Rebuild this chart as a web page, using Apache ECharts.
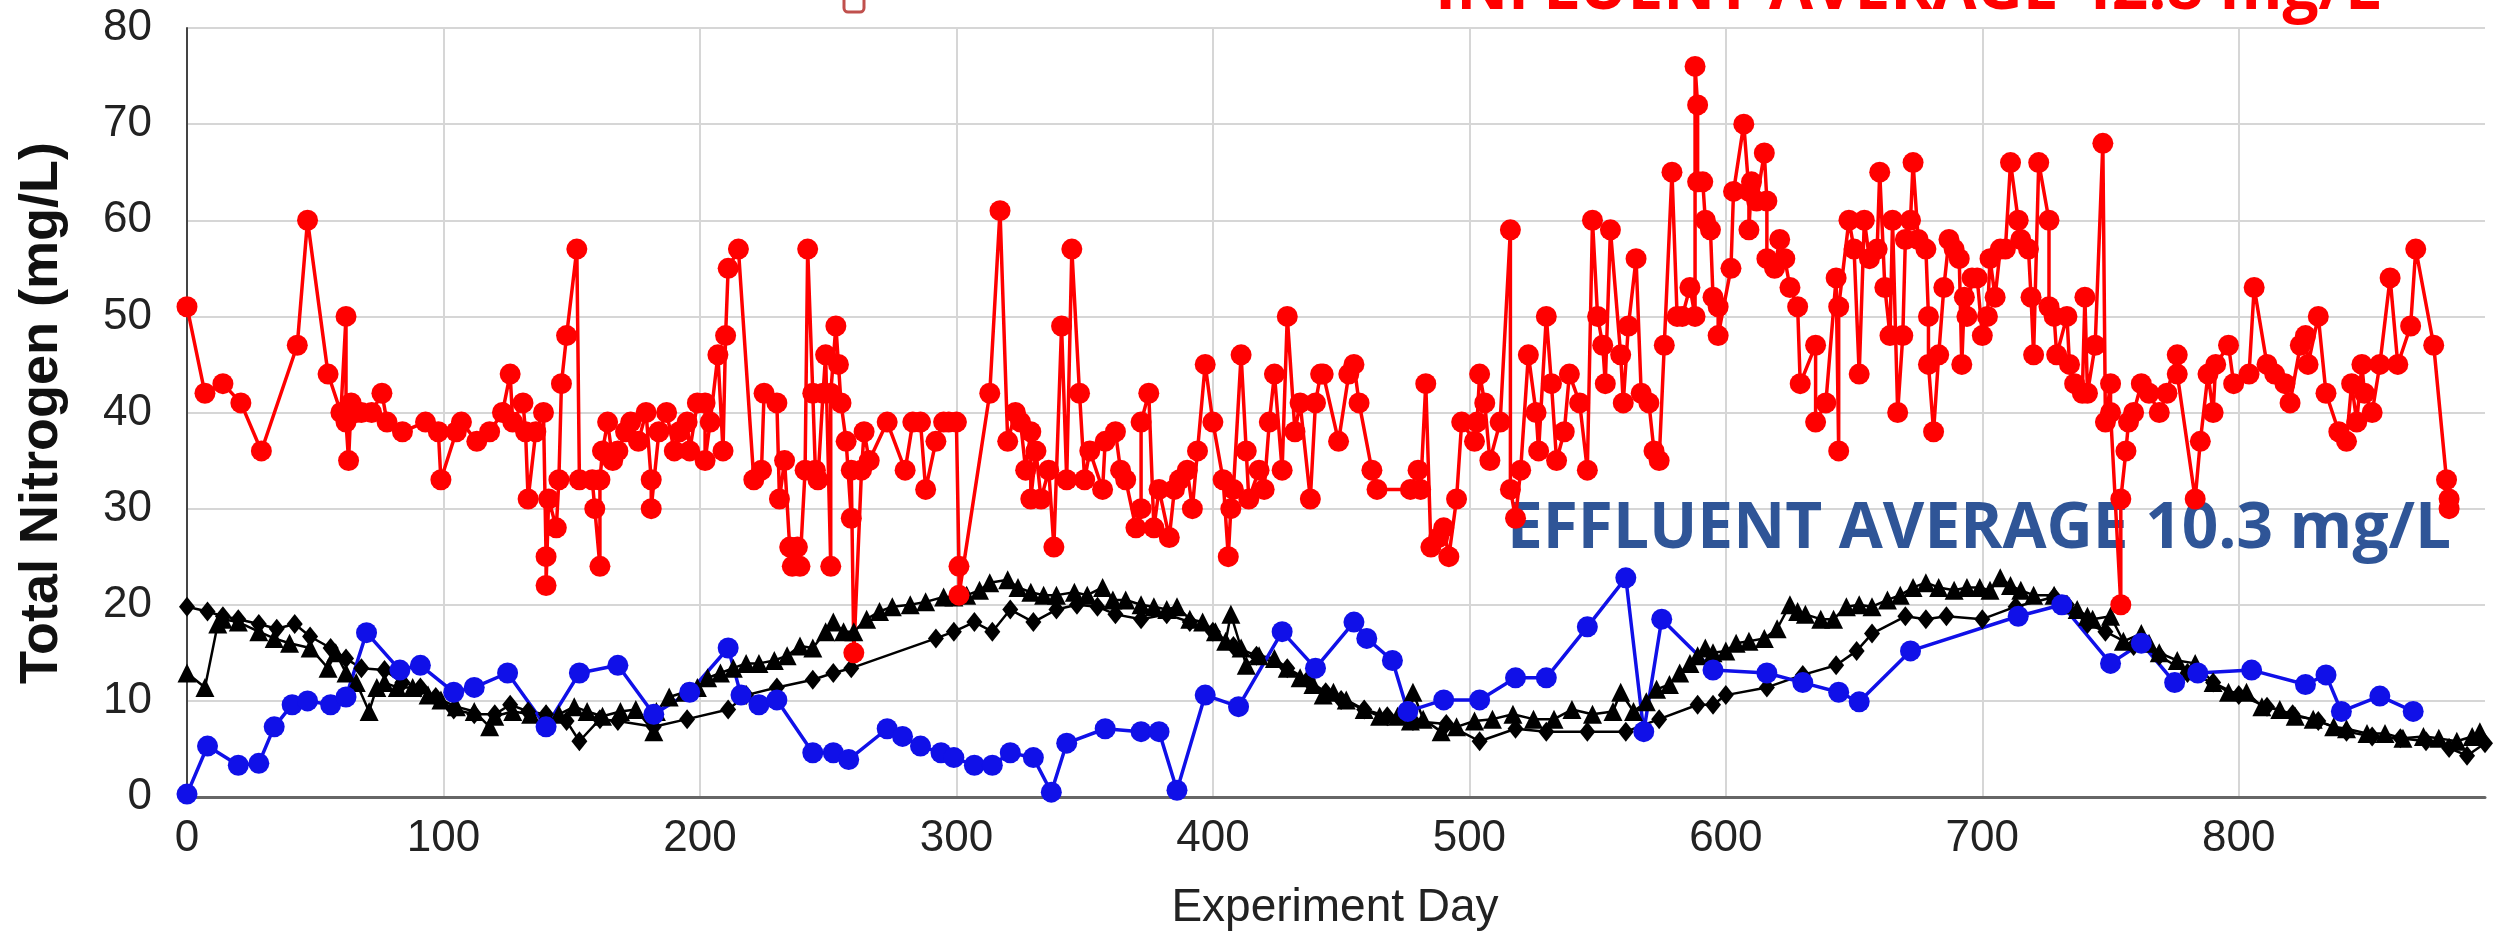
<!DOCTYPE html>
<html>
<head>
<meta charset="utf-8">
<script src="https://cdn.jsdelivr.net/npm/echarts@6/dist/echarts.min.js"></script>
<style>
  html, body { margin: 0; padding: 0; background: #fff; }
  #chart { width: 2503px; height: 935px; }
</style>
</head>
<body>
<div id="chart"></div>
<script>
// influent total nitrogen [day, mg/L]
const influent = [
  [0,51],[7,42],[14,43],[21,41],[29,36],[43,47],[47,60],[55,44],[60,40],[62,50],[62,39],[63,35],[64,41],[66,40],[68,40],
  [72,40],[76,42],[78,39],[84,38],[93,39],[98,38],[99,33],[105,38],[107,39],[113,37],[118,38],[123,40],[126,44],[127,39],
  [131,41],[132,38],[133,31],[136,38],[139,40],[140,25],[140,22],[141,31],[144,28],[145,33],[146,43],[148,48],[152,57],
  [153,33],[158,33],[159,30],[161,24],[161,33],[162,36],[164,39],[166,35],[168,36],[171,38],[173,39],[176,37],[179,40],
  [181,33],[181,30],[184,38],[187,40],[190,36],[192,38],[195,39],[196,36],[199,41],[202,41],[202,35],[204,39],[207,46],
  [209,36],[210,48],[211,55],[215,57],[221,33],[224,34],[225,42],[230,41],[231,31],[233,35],[235,26],[236,24],[238,26],
  [239,24],[241,34],[242,57],[244,42],[245,34],[246,33],[248,42],[249,46],[251,24],[251,42],[253,49],[254,45],[255,41],
  [257,37],[259,29],[259,34],[260,15],[263,34],[264,38],[266,35],[273,39],[280,34],[283,39],[286,39],[288,32],[292,37],
  [295,39],[297,39],[300,39],[301,24],[301,21],[313,42],[317,61],[320,37],[323,40],[325,39],[327,34],[329,38],[329,31],
  [331,36],[333,31],[336,34],[338,26],[341,49],[343,33],[345,57],[348,42],[350,33],[352,36],[357,32],[358,37],[362,38],
  [364,34],[366,33],[370,28],[372,30],[372,39],[375,42],[377,28],[379,32],[383,27],[385,32],[387,33],[390,34],[392,30],
  [394,36],[397,45],[400,39],[404,33],[406,25],[407,30],[408,32],[411,46],[413,36],[414,31],[418,34],[420,32],[422,39],
  [424,44],[427,34],[429,50],[432,38],[434,41],[438,31],[440,41],[442,44],[443,44],[449,37],[453,44],[455,45],[457,41],
  [462,34],[464,32],[477,32],[480,34],[481,32],[483,43],[485,26],[488,27],[490,28],[492,25],[495,31],[497,39],[502,37],
  [503,39],[504,44],[506,41],[508,35],[512,39],[516,59],[516,32],[518,29],[520,34],[523,46],[526,40],[527,36],[530,50],
  [532,43],[534,35],[537,38],[539,44],[543,41],[546,34],[548,60],[550,50],[552,47],[553,43],[555,59],[559,46],[560,41],
  [562,49],[565,56],[567,42],[570,41],[572,36],[574,35],[576,47],[579,65],[581,50],[583,50],[586,53],[588,50],[588,76],
  [589,72],[589,64],[591,64],[592,60],[594,59],[595,52],[597,51],[597,48],[602,55],[603,63],[607,70],[609,63],[609,59],
  [610,64],[612,62],[615,67],[616,62],[616,56],[619,55],[621,58],[623,56],[625,53],[628,51],[629,43],[635,47],[635,39],
  [639,41],[643,54],[644,36],[644,51],[648,60],[650,57],[652,44],[654,60],[656,56],[659,57],[660,65],[662,53],[664,48],
  [665,60],[667,40],[669,48],[670,58],[672,60],[673,66],[675,58],[678,57],[679,50],[679,45],[681,38],[683,46],[685,53],
  [687,58],[689,57],[691,56],[692,45],[693,52],[694,50],[696,54],[698,54],[700,48],[702,50],[703,56],[705,52],[707,57],
  [709,57],[711,66],[714,60],[715,58],[718,57],[719,52],[720,46],[722,66],[726,60],[726,51],[728,50],[729,46],[733,50],
  [734,45],[736,43],[739,42],[740,52],[741,42],[744,47],[747,68],[748,39],[750,43],[750,40],[754,20],[754,31],[756,36],
  [757,39],[759,40],[762,43],[765,42],[769,40],[772,42],[776,46],[776,44],[783,31],[785,37],[788,44],[790,40],[791,45],
  [796,47],[798,43],[804,44],[806,53],[811,45],[814,44],[818,43],[820,41],[824,47],[826,48],[827,45],[831,50],[834,42],
  [839,38],[842,37],[844,43],[846,39],[848,45],[849,42],[852,40],[855,45],[859,54],[862,45],[867,49],[869,57],[876,47],
  [881,33],[882,30],[882,31]
];

// effluent (blue circles)
const effluent = [
  [0,0.3],[8,5.3],[20,3.3],[28,3.5],[34,7.3],[41,9.6],[47,10],[56,9.6],[62,10.4],[70,17.1],[83,13.2],[91,13.7],
  [104,10.9],[112,11.4],[125,12.9],[140,7.3],[153,12.9],[168,13.7],[182,8.6],[196,10.9],[211,15.5],[216,10.6],
  [223,9.6],[230,10.1],[244,4.6],[252,4.6],[258,3.9],[273,7.1],[279,6.3],[286,5.3],[294,4.6],[299,4.1],[307,3.3],
  [314,3.3],[321,4.6],[330,4.1],[337,0.5],[343,5.6],[358,7.1],[372,6.8],[379,6.8],[386,0.7],[397,10.6],[410,9.4],
  [427,17.2],[440,13.4],[455,18.2],[460,16.5],[470,14.2],[476,8.9],[490,10.1],[504,10.1],[518,12.4],[530,12.4],
  [546,17.7],[561,22.8],[568,6.8],[575,18.5],[595,13.2],[616,12.9],[630,11.9],[644,10.9],[652,9.9],[672,15.2],
  [714,18.8],[731,20],[750,13.9],[762,16],[775,11.9],[784,12.9],[805,13.2],[826,11.7],[834,12.7],[840,8.9],
  [855,10.5],[868,8.9]
];

// black triangles
const triangles = [
  [0,12.9],[7,11.4],[12,18],[14,18.5],[20,18.2],[28,17.2],[34,16.5],[40,16],[48,15.5],[55,13.4],[58,15],[62,12.9],
  [66,11.9],[71,8.9],[74,11.4],[77,11.9],[82,11.4],[88,11.4],[94,10.6],[99,10.1],[105,9.4],[112,8.9],[118,7.3],
  [120,8.4],[127,8.9],[134,8.6],[140,8.6],[145,8.6],[151,9.4],[156,8.9],[162,8.4],[169,8.9],[175,9.1],[182,6.8],
  [183,8.9],[188,10.4],[194,10.9],[199,11.4],[203,12.4],[208,12.9],[213,13.4],[218,13.9],[223,13.9],[229,14.2],
  [234,14.7],[239,15.7],[244,15.5],[249,17.2],[252,18.2],[256,17.2],[260,17.2],[265,18.5],[270,19.3],[275,19.8],
  [282,20],[288,20.3],[295,20.8],[299,20.8],[304,21],[309,21.5],[313,22.3],[320,22.6],[324,21.8],[329,21.3],[334,21],
  [339,21],[346,21.3],[351,21],[357,21.8],[361,20.5],[366,20.5],[372,20],[377,19.8],[382,19.5],[386,19.8],[391,18.5],
  [396,18.2],[401,17.2],[405,16.2],[407,19],[411,15.5],[413,13.7],[418,14.7],[424,14.4],[429,13.4],[434,12.4],
  [439,11.7],[443,10.6],[447,10.9],[452,10.1],[459,9.1],[465,8.4],[472,8.4],[477,7.9],[478,10.9],[482,8.1],[489,6.8],
  [495,7.3],[502,7.9],[509,8.1],[517,8.6],[525,8.1],[533,8.1],[540,9.1],[548,8.6],[556,8.9],[559,10.9],[564,8.9],
  [569,9.9],[573,11.2],[578,11.7],[582,12.9],[586,13.9],[589,14.7],[592,15.5],[595,15],[600,15.2],[604,16],[609,16.2],
  [615,16.5],[620,17.5],[625,20],[628,19.3],[631,19],[637,18.5],[642,18.5],[647,19.8],[652,20],[657,19.8],[663,20.5],
  [668,21],[673,21.8],[678,22.3],[683,21.8],[689,21.5],[694,21.8],[699,21.8],[703,21.5],[707,22.8],[711,22],[715,21.5],
  [720,21],[728,21],[733,20],[737,19.5],[741,18.8],[743,18.5],[750,18.8],[755,16.2],[762,17],[765,16],[769,15],
  [776,14.2],[783,13.9],[790,11.9],[796,10.9],[803,10.9],[809,9.4],[816,9.1],[822,8.4],[829,8.1],[837,7.3],[842,7.1],
  [850,6.6],[857,6.6],[864,6.1],[872,6.3],[878,6.1],[885,5.8],[891,6.3],[894,6.8]
];

// black diamonds
const diamonds = [
  [0,19.8],[8,19.3],[14,18.8],[20,18.5],[28,18],[35,17.5],[42,18],[48,16.7],[56,15.5],[62,14.4],[68,13.4],[77,13.2],
  [84,11.9],[91,11.4],[97,10.4],[104,9.1],[112,8.6],[120,8.6],[126,9.6],[133,8.9],[140,8.6],[148,7.9],[153,5.8],
  [161,8.1],[168,7.9],[182,7.3],[195,8.1],[211,9.1],[218,10.6],[230,11.4],[244,12.2],[252,12.9],[259,13.4],[292,16.5],
  [299,17.2],[307,18.2],[314,17.2],[321,19.5],[330,18.2],[339,19.5],[347,20],[355,19.8],[362,19],[372,18.5],[382,19],
  [391,18.2],[400,17.2],[408,15.7],[417,14.7],[429,13.4],[437,12.2],[444,10.9],[450,10.1],[459,9.1],[468,8.4],
  [478,7.9],[491,7.6],[504,5.8],[518,7.1],[530,6.8],[546,6.8],[561,6.8],[574,8.1],[589,9.6],[595,9.6],[600,10.6],
  [616,11.4],[630,12.7],[643,13.7],[651,15.2],[657,17],[670,18.8],[678,18.5],[686,18.8],[700,18.5],[713,19.8],
  [728,20.8],[733,20],[741,18],[748,17.2],[759,15.7],[769,14.7],[780,12.9],[790,11.9],[800,10.6],[811,9.4],[821,8.6],
  [831,7.9],[842,6.8],[852,6.3],[863,6.1],[873,5.8],[882,5.1],[889,4.3],[896,5.6]
];

const yTitle = 'Total Nitrogen (mg/L)';
const xTitle = 'Experiment Day';
const influentNote = 'INFLUENT AVERAGE 42.8 mg/L';
const effluentNote = 'EFFLUENT AVERAGE 10.3 mg/L';

// stretch a text so it covers a given width
const measureCtx = document.createElement('canvas').getContext('2d');
function fitScale(text, font, width) {
  measureCtx.font = font;
  return width / measureCtx.measureText(text).width;
}
const noteFont = 'bold 64px "Open Sans"';

const chart = echarts.init(document.getElementById('chart'));

chart.setOption({
  animation: false,
  backgroundColor: '#fff',
  grid: { left: 187, right: 18, top: 28, bottom: 138, containLabel: false },
  xAxis: {
    type: 'value',
    min: 0,
    max: 896,
    interval: 100,
    axisLine: { show: true, onZero: false, lineStyle: { color: '#666', width: 3 } },
    axisTick: { show: false },
    axisLabel: {
      margin: 20,
      fontSize: 44,
      fontFamily: 'Liberation Sans',
      color: '#222',
      showMaxLabel: false
    },
    splitLine: { show: true, showMaxLine: false, lineStyle: { color: '#d6d6d6', width: 2 } }
  },
  yAxis: {
    type: 'value',
    min: 0,
    max: 80,
    interval: 10,
    axisLine: { show: true, lineStyle: { color: '#444', width: 2 } },
    axisTick: { show: false },
    axisLabel: { margin: 35, fontSize: 44, fontFamily: 'Liberation Sans', color: '#222' },
    splitLine: { show: true, lineStyle: { color: '#d6d6d6', width: 2 } }
  },
  series: [
    {
      name: 'triangles',
      type: 'line',
      data: triangles,
      symbol: 'triangle',
      symbolSize: 19,
      showAllSymbol: true,
      itemStyle: { color: '#000' },
      lineStyle: { color: '#000', width: 2.5 }
    },
    {
      name: 'diamonds',
      type: 'line',
      data: diamonds,
      symbol: 'diamond',
      symbolSize: [16, 20],
      showAllSymbol: true,
      itemStyle: { color: '#000' },
      lineStyle: { color: '#000', width: 2.5 }
    },
    {
      name: 'effluent',
      type: 'line',
      data: effluent,
      symbol: 'circle',
      symbolSize: 21,
      showAllSymbol: true,
      itemStyle: { color: '#1010e8' },
      lineStyle: { color: '#1010e8', width: 3.5 }
    },
    {
      name: 'influent',
      type: 'line',
      data: influent,
      symbol: 'circle',
      symbolSize: 21,
      showAllSymbol: true,
      itemStyle: { color: '#ff0000' },
      lineStyle: { color: '#ff0000', width: 3.5 }
    }
  ],
  graphic: [
    {
      type: 'text', x: 42, y: 413, rotation: Math.PI / 2,
      style: {
        text: yTitle, font: 'bold 54px "Liberation Sans"', fill: '#111',
        textAlign: 'center', textVerticalAlign: 'middle', align: 'center', verticalAlign: 'middle'
      }
    },
    {
      type: 'text', x: 1335, y: 908,
      style: {
        text: xTitle, font: '46px "Liberation Sans"', fill: '#222',
        textAlign: 'center', textVerticalAlign: 'middle', align: 'center', verticalAlign: 'middle'
      }
    },
    {
      type: 'text', x: 1979, y: 530, z: 1,
      scaleX: fitScale(effluentNote, noteFont, 944),
      style: {
        text: effluentNote, font: noteFont, fill: '#2f5597',
        textAlign: 'center', textVerticalAlign: 'middle', align: 'center', verticalAlign: 'middle'
      }
    },
    {
      type: 'text', x: 1908, y: -9, z: 1,
      scaleX: fitScale(influentNote, noteFont, 946),
      style: {
        text: influentNote, font: noteFont, fill: '#ff0000',
        textAlign: 'center', textVerticalAlign: 'middle', align: 'center', verticalAlign: 'middle'
      }
    },
    {
      type: 'rect', shape: { x: 844, y: -12, width: 20, height: 24, r: 4 },
      style: { fill: '#fff', stroke: '#c0504d', lineWidth: 3 }
    }
  ]
});
</script>
</body>
</html>
